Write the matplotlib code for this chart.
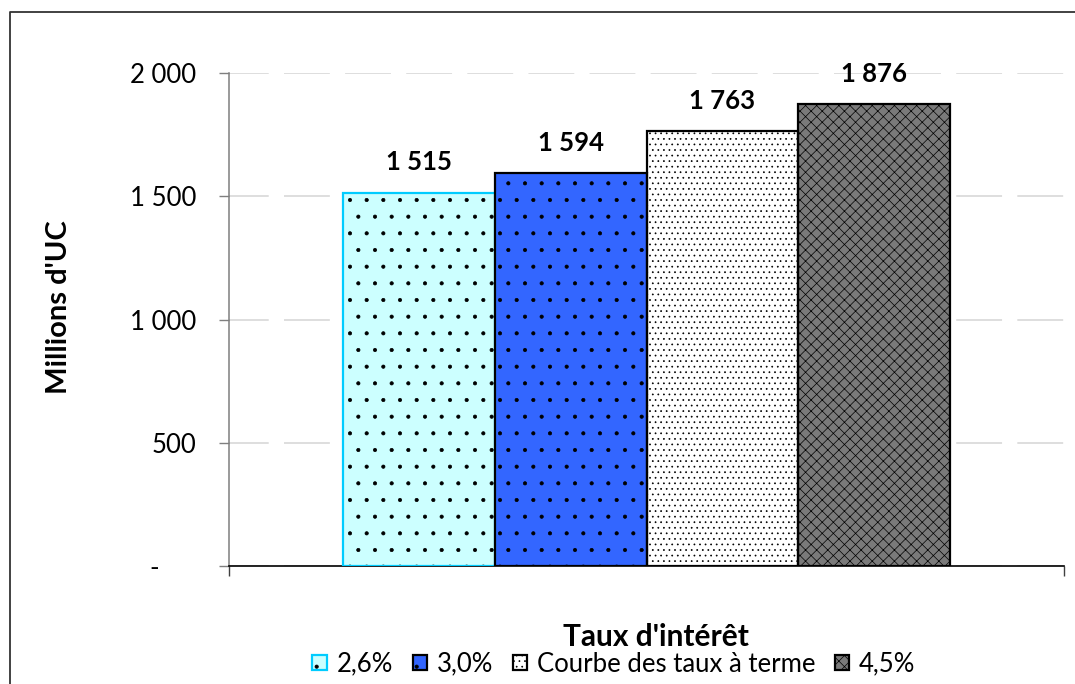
import numpy as np
import matplotlib.pyplot as plt
from matplotlib.lines import Line2D
from matplotlib.ticker import FuncFormatter

plt.rcParams['font.family'] = ['Lato', 'DejaVu Sans']
plt.rcParams['hatch.linewidth'] = 0.5

# total cost for each discount-rate assumption
series = ['2,6%', '3,0%', 'Courbe des taux à terme', '4,5%']
values = [1515, 1594, 1763, 1876]
faces = ['#ccffff', '#3366ff', '#ffffff', '#7a7a7a']
edges = ['#00ccff', 'black', 'black', 'black']
hatches = ['.', '.', '...', 'xxx']
yticks = [0, 500, 1000, 1500, 2000]


def fmt(v, pos=None):
    if v == 0:
        return '-\u2007\u2007 '
    return '{:,.0f}'.format(v).replace(',', ' ')


fig = plt.figure(figsize=(10.75, 6.84), dpi=100)
ax = fig.add_axes([229/1075, 1 - 566/684, 835/1075, 493/684])

w = 0.182
handles = []
for i, (name, v) in enumerate(zip(series, values)):
    x = 0.5 + (i - 1.5) * w
    # hatch drawn in black, outline drawn on top in its own colour
    b = ax.bar(x, v, width=w, color=faces[i], edgecolor='black', linewidth=0,
               hatch=hatches[i], zorder=2)
    o = ax.bar(x, v, width=w, fill=False, edgecolor=edges[i], linewidth=1.6,
               zorder=3)
    handles.append((b[0], o[0]))
    ax.annotate(fmt(v), xy=(x, v), xytext=(0, 13), textcoords='offset points',
                ha='center', va='bottom', fontsize=18.5, fontweight='bold')

ax.set_xlim(0, 1)
ax.set_ylim(0, 2000)
ax.set_yticks(yticks)
ax.yaxis.set_major_formatter(FuncFormatter(fmt))
ax.set_xticks([0, 1])
ax.set_xticklabels(['', ''])
ax.tick_params(axis='y', direction='out', length=7.5, width=1, color='#7f7f7f',
               labelsize=18.5, pad=16)
ax.tick_params(axis='x', direction='out', length=7, width=1, color='#404040')

for s in ['top', 'right']:
    ax.spines[s].set_visible(False)
ax.spines['left'].set_color('#7f7f7f')
ax.spines['left'].set_linewidth(1.1)
ax.spines['bottom'].set_color('black')
ax.spines['bottom'].set_linewidth(1.2)

ax.yaxis.grid(True, color='#d4d4d4', linewidth=1.1, linestyle=(4, (30, 10)))
ax.set_axisbelow(True)

fig.text(59/1075, 1 - 307/684, "Millions d'UC", rotation=90, ha='center',
         va='center', fontsize=21, fontweight='bold')
fig.text(656/1075, 1 - 637/684, "Taux d'intérêt", ha='center', va='center',
         fontsize=21.5, fontweight='bold')

fig.legend(handles, series, loc='center', bbox_to_anchor=(614/1075, 1 - 664/684),
           ncol=4, frameon=False, fontsize=18.5, handlelength=0.55,
           handleheight=0.55, handletextpad=0.4, columnspacing=0.75,
           borderpad=0, borderaxespad=0)

# chart frame, cut by the right and bottom edges
fig.add_artist(Line2D([10/1075, 10/1075, 1.01], [-0.01, 1 - 12/684, 1 - 12/684],
                      transform=fig.transFigure, color='#333333', linewidth=1.3))

fig.savefig('out.png', dpi=100)
